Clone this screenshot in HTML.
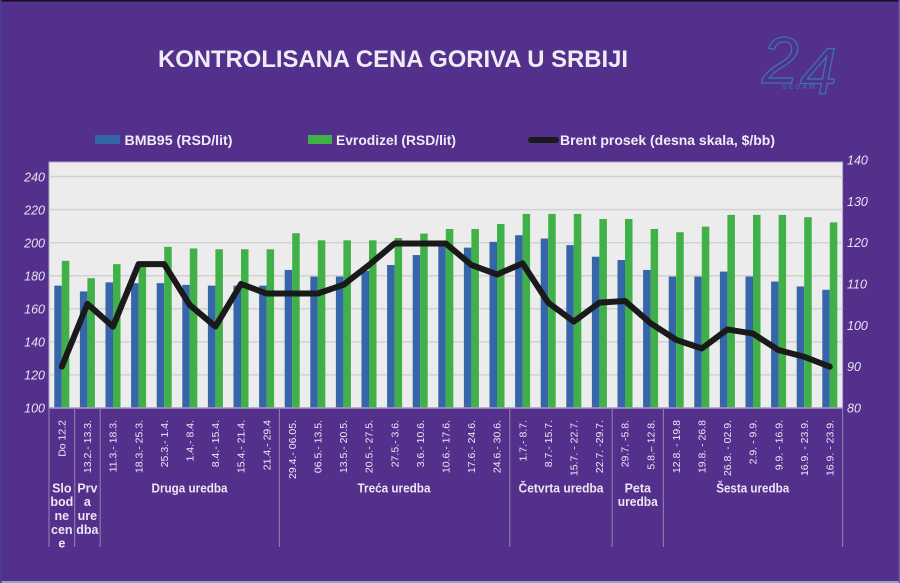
<!DOCTYPE html>
<html><head><meta charset="utf-8"><style>
html,body{margin:0;padding:0;background:#53308b;}
svg{display:block;}
text{font-family:"Liberation Sans",sans-serif;}
</style></head><body>
<svg width="900" height="583" viewBox="0 0 900 583" xmlns="http://www.w3.org/2000/svg">
<rect x="0" y="0" width="900" height="583" fill="#53308b"/>
<rect x="0" y="0" width="900" height="1.5" fill="#151020"/>
<rect x="0" y="581" width="900" height="2" fill="#8ea4c4"/>
<rect x="0" y="0" width="1.5" height="583" fill="#4a3c9a"/>
<rect x="898.5" y="0" width="1.5" height="583" fill="#6a58a8"/>

<!-- Title -->
<text x="158" y="67" font-size="24" font-weight="bold" fill="#f0ecf6" textLength="470" lengthAdjust="spacingAndGlyphs">KONTROLISANA CENA GORIVA U SRBIJI</text>

<!-- Logo -->
<text x="762" y="83" font-size="66" fill="none" stroke="#3b74b4" stroke-width="1.3" font-style="italic">2</text>
<text x="800" y="94" font-size="66" fill="none" stroke="#3b74b4" stroke-width="1.3" font-style="italic">4</text>
<text x="782" y="89" font-size="7" fill="#3b74b4" letter-spacing="2">SEDAM</text>

<!-- Legend -->
<rect x="95" y="135" width="25" height="9" fill="#3566a9"/>
<text x="124.5" y="145" font-size="13.5" font-weight="bold" fill="#f0ecf6" textLength="108" lengthAdjust="spacingAndGlyphs">BMB95 (RSD/lit)</text>
<rect x="308" y="135" width="24" height="9" fill="#40b048"/>
<text x="336" y="145" font-size="13.5" font-weight="bold" fill="#f0ecf6" textLength="120" lengthAdjust="spacingAndGlyphs">Evrodizel (RSD/lit)</text>
<line x1="531" y1="140" x2="556" y2="140" stroke="#1a1a1a" stroke-width="6" stroke-linecap="round"/>
<text x="560" y="145" font-size="13.5" font-weight="bold" fill="#f0ecf6" textLength="215" lengthAdjust="spacingAndGlyphs">Brent prosek  (desna skala, $/bb)</text>

<!-- Plot area -->
<rect x="49" y="162" width="793.6" height="246" fill="#ececec" stroke="#b0a4c8" stroke-width="1"/>
<g stroke="#d2d2d2" stroke-width="1.5">
<line x1="49" x2="842.6" y1="176.5" y2="176.5"/>
<line x1="49" x2="842.6" y1="209.6" y2="209.6"/>
<line x1="49" x2="842.6" y1="242.7" y2="242.7"/>
<line x1="49" x2="842.6" y1="275.7" y2="275.7"/>
<line x1="49" x2="842.6" y1="308.8" y2="308.8"/>
<line x1="49" x2="842.6" y1="341.9" y2="341.9"/>
<line x1="49" x2="842.6" y1="374.9" y2="374.9"/>
</g>

<!-- Blue bars -->
<g fill="#3566a9">
<rect x="54.3" y="285.65" width="7.5" height="122.35"/>
<rect x="79.9" y="291.44" width="7.5" height="116.56"/>
<rect x="105.5" y="282.35" width="7.5" height="125.65"/>
<rect x="131.1" y="283.17" width="7.5" height="124.83"/>
<rect x="156.7" y="283.17" width="7.5" height="124.83"/>
<rect x="182.3" y="284.83" width="7.5" height="123.17"/>
<rect x="207.9" y="285.65" width="7.5" height="122.35"/>
<rect x="233.5" y="285.65" width="7.5" height="122.35"/>
<rect x="259.1" y="285.65" width="7.5" height="122.35"/>
<rect x="284.7" y="269.95" width="7.5" height="138.05"/>
<rect x="310.3" y="276.56" width="7.5" height="131.44"/>
<rect x="335.9" y="276.56" width="7.5" height="131.44"/>
<rect x="361.5" y="270.77" width="7.5" height="137.23"/>
<rect x="387.1" y="264.99" width="7.5" height="143.01"/>
<rect x="412.7" y="255.07" width="7.5" height="152.93"/>
<rect x="438.3" y="245.97" width="7.5" height="162.03"/>
<rect x="463.9" y="247.63" width="7.5" height="160.37"/>
<rect x="489.5" y="241.84" width="7.5" height="166.16"/>
<rect x="515.1" y="235.23" width="7.5" height="172.77"/>
<rect x="540.7" y="238.53" width="7.5" height="169.47"/>
<rect x="566.3" y="245.15" width="7.5" height="162.85"/>
<rect x="591.9" y="256.72" width="7.5" height="151.28"/>
<rect x="617.5" y="260.03" width="7.5" height="147.97"/>
<rect x="643.1" y="269.95" width="7.5" height="138.05"/>
<rect x="668.7" y="276.56" width="7.5" height="131.44"/>
<rect x="694.3" y="276.56" width="7.5" height="131.44"/>
<rect x="719.9" y="271.6" width="7.5" height="136.4"/>
<rect x="745.5" y="276.56" width="7.5" height="131.44"/>
<rect x="771.1" y="281.52" width="7.5" height="126.48"/>
<rect x="796.7" y="286.48" width="7.5" height="121.52"/>
<rect x="822.3" y="289.79" width="7.5" height="118.21"/>
</g>

<!-- Green bars -->
<g fill="#40b048">
<rect x="61.8" y="260.85" width="7.5" height="147.15"/>
<rect x="87.4" y="278.21" width="7.5" height="129.79"/>
<rect x="113.0" y="264.16" width="7.5" height="143.84"/>
<rect x="138.6" y="262.51" width="7.5" height="145.49"/>
<rect x="164.2" y="246.8" width="7.5" height="161.2"/>
<rect x="189.8" y="248.45" width="7.5" height="159.55"/>
<rect x="215.4" y="249.28" width="7.5" height="158.72"/>
<rect x="241.0" y="249.28" width="7.5" height="158.72"/>
<rect x="266.6" y="249.28" width="7.5" height="158.72"/>
<rect x="292.2" y="233.24" width="7.5" height="174.76"/>
<rect x="317.8" y="240.35" width="7.5" height="167.65"/>
<rect x="343.4" y="240.35" width="7.5" height="167.65"/>
<rect x="369.0" y="240.35" width="7.5" height="167.65"/>
<rect x="394.6" y="238.04" width="7.5" height="169.96"/>
<rect x="420.2" y="233.57" width="7.5" height="174.43"/>
<rect x="445.8" y="228.95" width="7.5" height="179.05"/>
<rect x="471.4" y="228.95" width="7.5" height="179.05"/>
<rect x="497.0" y="223.98" width="7.5" height="184.02"/>
<rect x="522.6" y="213.9" width="7.5" height="194.1"/>
<rect x="548.2" y="213.9" width="7.5" height="194.1"/>
<rect x="573.8" y="213.9" width="7.5" height="194.1"/>
<rect x="599.4" y="219.02" width="7.5" height="188.98"/>
<rect x="625.0" y="219.02" width="7.5" height="188.98"/>
<rect x="650.6" y="228.95" width="7.5" height="179.05"/>
<rect x="676.2" y="232.25" width="7.5" height="175.75"/>
<rect x="701.8" y="226.63" width="7.5" height="181.37"/>
<rect x="727.4" y="214.89" width="7.5" height="193.11"/>
<rect x="753.0" y="214.89" width="7.5" height="193.11"/>
<rect x="778.6" y="214.89" width="7.5" height="193.11"/>
<rect x="804.2" y="217.21" width="7.5" height="190.79"/>
<rect x="829.8" y="222.33" width="7.5" height="185.67"/>
</g>

<!-- Brent line -->
<polyline fill="none" stroke="#1a1a1a" stroke-width="6" stroke-linejoin="round" stroke-linecap="round"
points="61.8,366.67 87.4,303.84 113.0,326.57 138.6,264.16 164.2,264.16 189.8,305.08 215.4,326.57 241.0,284 266.6,293.51 292.2,293.51 317.8,293.51 343.4,284.83 369.0,264.99 394.6,243.49 420.2,243.49 445.8,243.49 471.4,264.99 497.0,274.49 522.6,263.33 548.2,302.6 573.8,321.61 599.4,302.6 625.0,300.95 650.6,323.27 676.2,339.8 701.8,348.48 727.4,329.47 753.0,333.6 778.6,350.13 804.2,356.75 829.8,366.67"/>

<!-- Axis line -->
<line x1="49" x2="842.6" y1="408" y2="408" stroke="#a89cc0" stroke-width="1.5"/>

<!-- Left axis labels -->
<g font-size="12.5" font-style="italic" fill="#e8e2f2" text-anchor="end">
<text x="45" y="181.5">240</text>
<text x="45" y="214.5">220</text>
<text x="45" y="247.5">200</text>
<text x="45" y="280.5">180</text>
<text x="45" y="313.5">160</text>
<text x="45" y="346.5">140</text>
<text x="45" y="379.5">120</text>
<text x="45" y="412.5">100</text>
</g>
<!-- Right axis labels -->
<g font-size="12.5" font-style="italic" fill="#e8e2f2">
<text x="847" y="164.5">140</text>
<text x="847" y="205.8">130</text>
<text x="847" y="247.2">120</text>
<text x="847" y="288.5">110</text>
<text x="847" y="329.8">100</text>
<text x="847" y="371.2">90</text>
<text x="847" y="412.5">80</text>
</g>

<!-- Group separators -->
<g stroke="#8878a8" stroke-width="1.2">
<line x1="49" x2="49" y1="408" y2="547"/>
<line x1="74.6" x2="74.6" y1="408" y2="547"/>
<line x1="100.2" x2="100.2" y1="408" y2="547"/>
<line x1="279.4" x2="279.4" y1="408" y2="547"/>
<line x1="509.8" x2="509.8" y1="408" y2="547"/>
<line x1="612.2" x2="612.2" y1="408" y2="547"/>
<line x1="663.4" x2="663.4" y1="408" y2="547"/>
<line x1="842.6" x2="842.6" y1="408" y2="547"/>
</g>

<!-- Category labels -->
<g font-size="10.5" fill="#ece6f4" text-anchor="end">
<text transform="translate(65.5,420) rotate(-90)">Do 12.2</text>
<text transform="translate(91.1,420) rotate(-90)">13.2.- 13.3.</text>
<text transform="translate(116.7,420) rotate(-90)">11.3.- 18.3.</text>
<text transform="translate(142.3,420) rotate(-90)">18.3.- 25.3.</text>
<text transform="translate(167.9,420) rotate(-90)">25.3.- 1.4.</text>
<text transform="translate(193.5,420) rotate(-90)">1.4.- 8.4.</text>
<text transform="translate(219.1,420) rotate(-90)">8.4.- 15.4.</text>
<text transform="translate(244.7,420) rotate(-90)">15.4.- 21.4.</text>
<text transform="translate(270.3,420) rotate(-90)">21.4.- 29.4</text>
<text transform="translate(295.9,420) rotate(-90)">29.4.- 06.05.</text>
<text transform="translate(321.5,420) rotate(-90)">06.5.- 13.5.</text>
<text transform="translate(347.1,420) rotate(-90)">13.5.- 20.5.</text>
<text transform="translate(372.7,420) rotate(-90)">20.5.- 27.5.</text>
<text transform="translate(398.3,420) rotate(-90)">27.5.- 3.6.</text>
<text transform="translate(423.9,420) rotate(-90)">3.6.- 10.6.</text>
<text transform="translate(449.5,420) rotate(-90)">10.6.- 17.6.</text>
<text transform="translate(475.1,420) rotate(-90)">17.6.- 24.6.</text>
<text transform="translate(500.7,420) rotate(-90)">24.6.- 30.6.</text>
<text transform="translate(526.3,420) rotate(-90)">1.7.- 8.7.</text>
<text transform="translate(551.9,420) rotate(-90)">8.7.- 15.7.</text>
<text transform="translate(577.5,420) rotate(-90)">15.7. - 22.7.</text>
<text transform="translate(603.1,420) rotate(-90)">22.7. -29.7.</text>
<text transform="translate(628.7,420) rotate(-90)">29.7. -5.8.</text>
<text transform="translate(654.3,420) rotate(-90)">5.8.– 12.8.</text>
<text transform="translate(679.9,420) rotate(-90)">12.8. - 19.8</text>
<text transform="translate(705.5,420) rotate(-90)">19.8. - 26.8</text>
<text transform="translate(731.1,420) rotate(-90)">26.8. - 02.9.</text>
<text transform="translate(756.7,420) rotate(-90)">2.9. - 9.9.</text>
<text transform="translate(782.3,420) rotate(-90)">9.9. - 16.9.</text>
<text transform="translate(807.9,420) rotate(-90)">16.9. - 23.9.</text>
<text transform="translate(833.5,420) rotate(-90)">16.9. - 23.9.</text>
</g>

<!-- Group labels -->
<g font-size="12.5" font-weight="bold" fill="#ece6f4" text-anchor="middle">
<text x="61.8" y="492.5">Slo</text>
<text x="61.8" y="506">bod</text>
<text x="61.8" y="520">ne</text>
<text x="61.8" y="534">cen</text>
<text x="61.8" y="547.5">e</text>
<text x="87.4" y="492.5">Prv</text>
<text x="87.4" y="506">a</text>
<text x="87.4" y="520">ure</text>
<text x="87.4" y="534">dba</text>
<text x="189.5" y="492.5" textLength="76" lengthAdjust="spacingAndGlyphs">Druga uredba</text>
<text x="394" y="492.5" textLength="73" lengthAdjust="spacingAndGlyphs">Treća uredba</text>
<text x="561" y="492.5" textLength="85" lengthAdjust="spacingAndGlyphs">Četvrta uredba</text>
<text x="637.8" y="492.5">Peta</text>
<text x="637.8" y="506" textLength="40" lengthAdjust="spacingAndGlyphs">uredba</text>
<text x="752.7" y="492.5" textLength="73" lengthAdjust="spacingAndGlyphs">Šesta uredba</text>
</g>
</svg>
</body></html>
